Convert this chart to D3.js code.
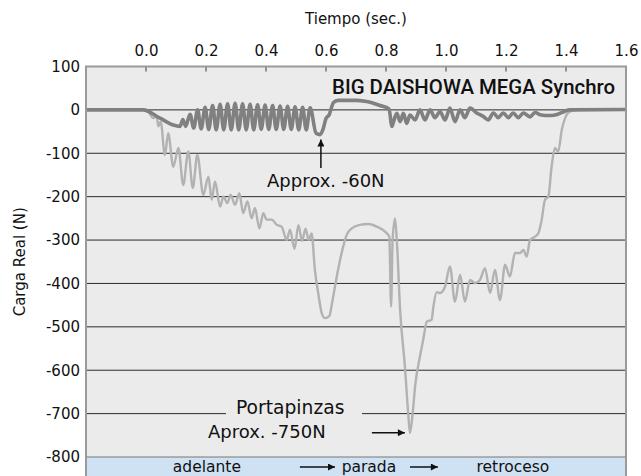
<!DOCTYPE html>
<html>
<head>
<meta charset="utf-8">
<script src="https://cdn.jsdelivr.net/npm/d3@7"></script>
<style>
  body { margin: 0; background: #fff; }
  svg { display: block; font-family: 'DejaVu Sans', sans-serif; }
</style>
</head>
<body>
<svg id="chart" width="641" height="476"></svg>
<script>
// tick labels
const TIME_TICKS = [0.0, 0.2, 0.4, 0.6, 0.8, 1.0, 1.2, 1.4, 1.6]
const LOAD_TICKS = [100, 0, -100, -200, -300, -400, -500, -600, -700, -800]
const GRID_LINES = [0, -100, -200, -300, -400, -500, -600, -700]

// MEGA Synchro (dark) - time (s) / load (N)
const darkT = [-0.2, -0.01, 0.047, 0.091, 0.113, 0.123, 0.132,
  0.147, 0.159, 0.172, 0.184, 0.197, 0.209, 0.222, 0.234, 0.247, 0.259,
  0.272, 0.284, 0.297, 0.309, 0.322, 0.334, 0.347, 0.359, 0.372, 0.384,
  0.397, 0.409, 0.422, 0.434, 0.447, 0.459, 0.472, 0.484, 0.497, 0.509,
  0.522, 0.534, 0.547, 0.567, 0.58, 0.59, 0.6, 0.61, 0.625, 0.64, 0.7,
  0.73, 0.75, 0.78, 0.81, 0.82, 0.824, 0.836, 0.847, 0.858, 0.869, 0.88,
  0.897, 0.913, 0.93, 0.947, 0.963, 0.98, 0.997, 1.013, 1.03, 1.047, 1.063,
  1.08, 1.102, 1.124, 1.141, 1.158, 1.174, 1.191, 1.208, 1.224, 1.241,
  1.258, 1.28, 1.297, 1.313, 1.347, 1.373, 1.39, 1.41, 1.6]
const darkV = [0, 0, -19, -35, -38, -22, -38,
  -10, -42, 0, -44, 6, -45, 10, -46, 13, -46,
  14, -46, 15, -46, 14, -46, 13, -46, 12, -45,
  11, -45, 10, -45, 9, -45, 8, -45, 7, -46,
  6, -46, 5, -54, -57, -45, -20, -12, 17, 22, 22,
  20, 17, 10, 2, -38, -30, -8, -27, -8, -31, -12,
  -23, 0, -23, 0, -18, -4, -23, 4, -27, 0, -18,
  4, -7, -15, -23, -7, -18, -7, -18, -7, -18,
  -7, -16, -6, -11, -13, -10, -5, 0, 1]

// Portapinzas (light) - time (s) / load (N)
const lightT = [-0.2, 0.0, 0.007, 0.024, 0.036, 0.041, 0.049, 0.063, 0.074,
  0.091, 0.108, 0.124, 0.141, 0.156, 0.171, 0.191, 0.208, 0.219, 0.23,
  0.247, 0.258, 0.271, 0.282, 0.297, 0.311, 0.324, 0.338, 0.352, 0.363,
  0.378, 0.391, 0.402, 0.419, 0.436, 0.452, 0.469, 0.48, 0.495, 0.508,
  0.52, 0.532, 0.542, 0.552, 0.563, 0.574, 0.586, 0.597, 0.611, 0.622,
  0.636, 0.652, 0.669, 0.686, 0.713, 0.741, 0.769, 0.802, 0.811, 0.817,
  0.822, 0.83, 0.836, 0.847, 0.863, 0.874, 0.88, 0.889, 0.897, 0.913,
  0.924, 0.936, 0.952, 0.958, 0.969, 0.98, 0.997, 1.013, 1.03, 1.047,
  1.063, 1.08, 1.097, 1.113, 1.13, 1.147, 1.163, 1.18, 1.197, 1.213,
  1.23, 1.247, 1.258, 1.269, 1.28, 1.297, 1.308, 1.319, 1.33, 1.341,
  1.352, 1.363, 1.374, 1.386, 1.397, 1.413, 1.436, 1.6]
const lightV = [0, 0, -3, -19, -15, -38, -27, -104, -54,
  -131, -88, -173, -96, -180, -104, -196, -154, -207, -165,
  -223, -200, -215, -196, -219, -192, -238, -211, -250, -226,
  -273, -238, -253, -253, -265, -269, -300, -276, -320, -266,
  -302, -274, -300, -285, -369, -422, -469, -480, -475, -438,
  -384, -330, -288, -273, -265, -263, -269, -284, -292, -453,
  -300, -250, -300, -461, -591, -699, -745, -699, -637, -569,
  -530, -488, -484, -453, -420, -422, -407, -361, -442, -380,
  -442, -392, -399, -392, -365, -422, -369, -438, -357, -384,
  -330, -330, -323, -338, -300, -292, -284, -253, -207, -200,
  -131, -88, -96, -46, -19, -4, 0, 0]

const PHASES = ['adelante', 'parada', 'retroceso']

const svg = d3.select('#chart')
const x = d3.scaleLinear().domain([-0.2, 1.6]).range([86, 626])
const y = d3.scaleLinear().domain([-800, 100]).range([457, 66.5])
const [x0, x1] = x.range()
const yTop = y(100), yBot = y(-800)

// plot background + phase band
svg.append('rect').attr('x', x0).attr('y', yTop).attr('width', x1 - x0).attr('height', yBot - yTop)
  .attr('fill', '#ebebeb')
svg.append('rect').attr('x', x0).attr('y', yBot).attr('width', x1 - x0).attr('height', 476 - yBot + 5)
  .attr('fill', '#cfe2f3')

// grid
svg.append('g').selectAll('line').data(GRID_LINES).join('line')
  .attr('x1', x0).attr('x2', x1).attr('y1', d => y(d)).attr('y2', d => y(d))
  .attr('stroke', '#2b2b2b').attr('stroke-width', 1)
svg.append('line').attr('x1', x0).attr('x2', x1).attr('y1', yBot).attr('y2', yBot)
  .attr('stroke', '#777').attr('stroke-width', 1)

// top axis
const topAxis = svg.append('g').attr('transform', `translate(0,${yTop})`)
  .call(d3.axisTop(x).tickValues(TIME_TICKS).tickFormat(d3.format('.1f')).tickSize(0).tickPadding(11))
topAxis.select('.domain').remove()
topAxis.selectAll('text').attr('font-size', 15).attr('fill', '#111').attr('font-family', 'DejaVu Sans')
svg.append('g').selectAll('line').data(TIME_TICKS.slice(0, -1)).join('line')
  .attr('x1', d => x(d)).attr('x2', d => x(d)).attr('y1', yTop).attr('y2', yTop + 5)
  .attr('stroke', '#555').attr('stroke-width', 1.2)

// left axis labels (plain hyphen as in the original)
const leftAxis = svg.append('g').attr('transform', `translate(${x0},0)`)
  .call(d3.axisLeft(y).tickValues(LOAD_TICKS).tickFormat(d => String(d)).tickSize(0).tickPadding(6))
leftAxis.select('.domain').remove()
leftAxis.selectAll('text').attr('font-size', 15).attr('fill', '#111').attr('font-family', 'DejaVu Sans')

// series
const lineGen = (T, V) => d3.line()
  .x((d, i) => x(T[i])).y((d, i) => y(V[i]))
  .curve(d3.curveMonotoneX)(T)

svg.append('path').attr('d', lineGen(lightT, lightV))
  .attr('fill', 'none').attr('stroke', '#b2b2b2').attr('stroke-width', 2.4).attr('stroke-linejoin', 'round')
svg.append('path').attr('d', lineGen(darkT, darkV))
  .attr('fill', 'none').attr('stroke', '#808080').attr('stroke-width', 3.6).attr('stroke-linejoin', 'round')

// frame
svg.append('path')
  .attr('d', `M${x0},476V${yTop}H${x1}V476`)
  .attr('fill', 'none').attr('stroke', '#9a9a9a').attr('stroke-width', 2)

// titles
svg.append('text').attr('x', (x0 + x1) / 2).attr('y', 24).attr('text-anchor', 'middle')
  .attr('font-size', 15).attr('fill', '#111').text('Tiempo (sec.)')
svg.append('text').attr('transform', `translate(25,${(yTop + yBot) / 2}) rotate(-90)`)
  .attr('text-anchor', 'middle').attr('font-size', 15).attr('fill', '#111').text('Carga Real (N)')
svg.append('text').attr('x', 615).attr('y', 93.5).attr('text-anchor', 'end')
  .attr('font-family', 'Roboto').attr('font-weight', 500).attr('font-size', 20.4)
  .attr('fill', '#111').text('BIG DAISHOWA MEGA Synchro')

// annotations
const defs = svg.append('defs')
defs.append('marker').attr('id', 'ah').attr('viewBox', '0 0 10 10').attr('refX', 10).attr('refY', 5)
  .attr('markerWidth', 10).attr('markerHeight', 7).attr('orient', 'auto').attr('markerUnits', 'userSpaceOnUse')
  .append('path').attr('d', 'M0,0L10,5L0,10Z').attr('fill', '#111')

svg.append('line').attr('x1', x(0.583)).attr('x2', x(0.583)).attr('y1', y(-134)).attr('y2', y(-68))
  .attr('stroke', '#111').attr('stroke-width', 1.5).attr('marker-end', 'url(#ah)')
svg.append('text').attr('x', 267).attr('y', 187).attr('font-size', 18).attr('fill', '#111')
  .text('Approx. -60N')

svg.append('rect').attr('x', 226).attr('y', 398).attr('width', 136).attr('height', 20).attr('fill', '#ebebeb')
svg.append('text').attr('x', 236).attr('y', 414).attr('font-size', 18.7).attr('fill', '#111').text('Portapinzas')
svg.append('text').attr('x', 208).attr('y', 438).attr('font-size', 18).attr('fill', '#111').text('Aprox. -750N')
svg.append('line').attr('x1', x(0.753)).attr('x2', x(0.863)).attr('y1', y(-744)).attr('y2', y(-744))
  .attr('stroke', '#111').attr('stroke-width', 1.5).attr('marker-end', 'url(#ah)')

// phase band
const band = svg.append('g').attr('font-size', 15.5).attr('fill', '#111').attr('text-anchor', 'middle')
band.selectAll('text').data(PHASES).join('text')
  .attr('x', (d, i) => x([0.203, 0.743, 1.223][i])).attr('y', 471.5).text(d => d)
band.selectAll('line').data([[0.513, 0.63], [0.88, 0.973]]).join('line')
  .attr('x1', d => x(d[0])).attr('x2', d => x(d[1])).attr('y1', 467).attr('y2', 467)
  .attr('stroke', '#111').attr('stroke-width', 1.5).attr('marker-end', 'url(#ah)')
</script>
</body>
</html>
